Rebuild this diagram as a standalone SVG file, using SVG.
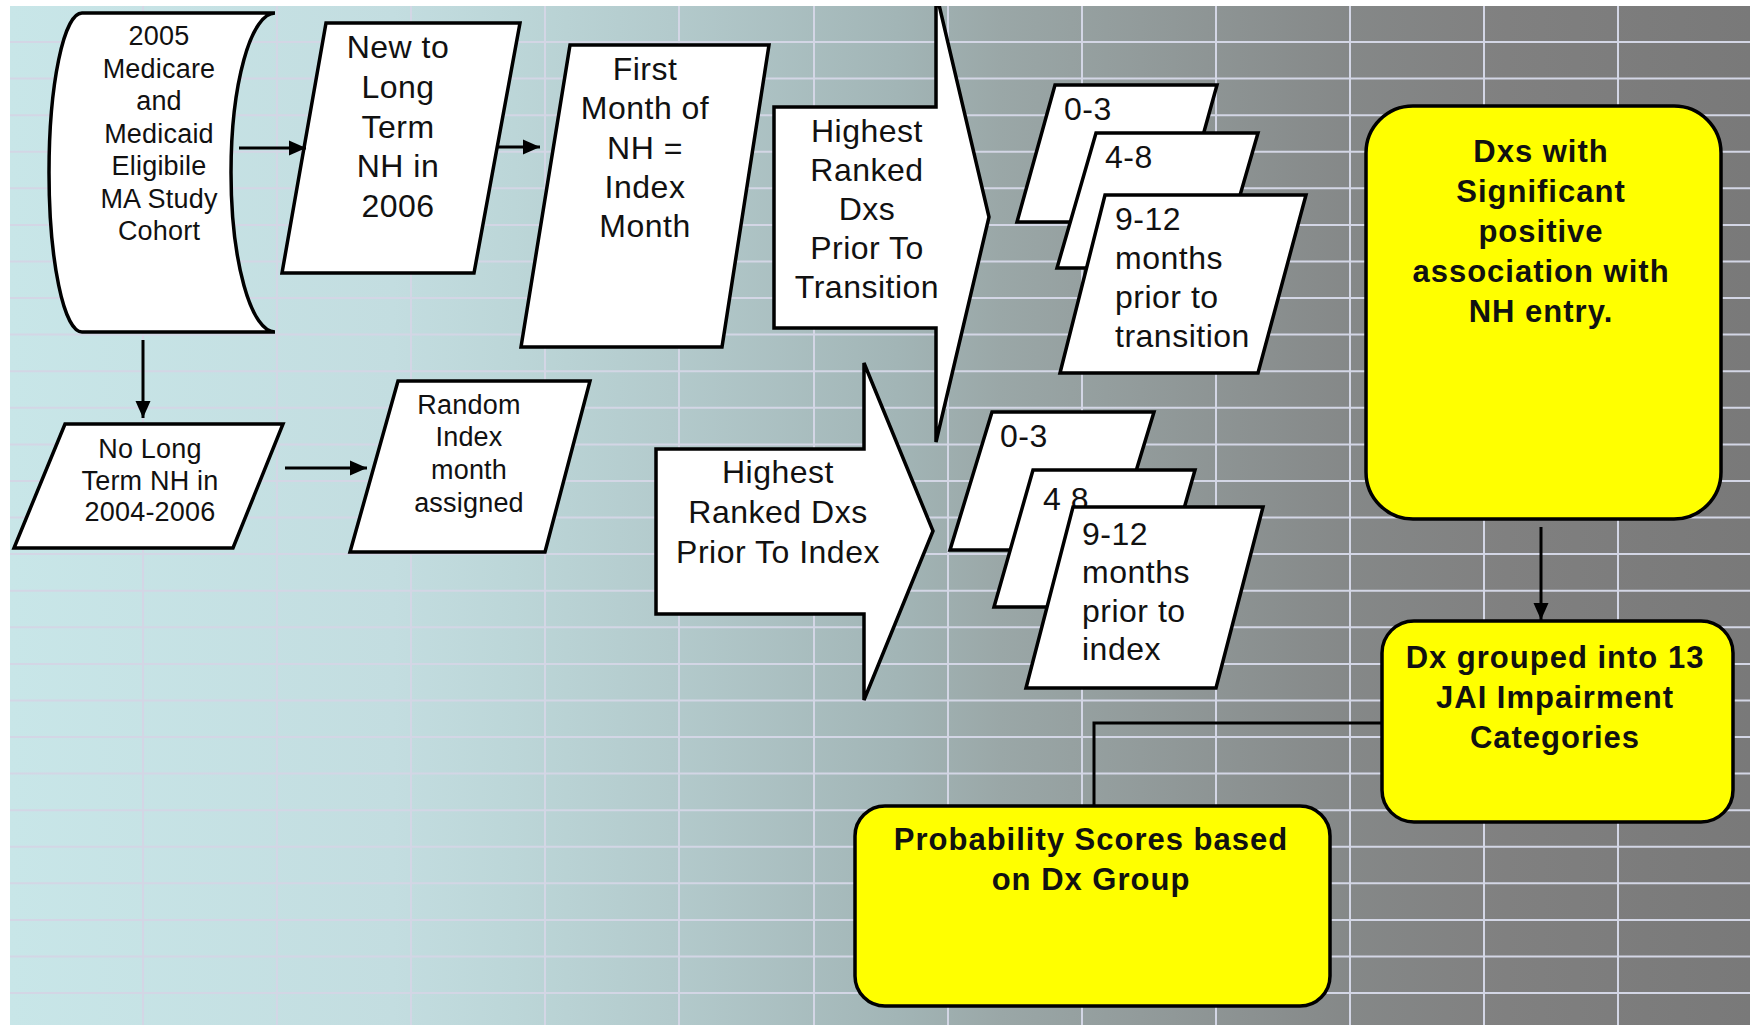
<svg xmlns="http://www.w3.org/2000/svg" width="1750" height="1025" viewBox="0 0 1750 1025">
<defs>
<linearGradient id="bgGrad" x1="0" y1="0" x2="1" y2="0">
<stop offset="0" stop-color="#c8e6e8"/>
<stop offset="0.22" stop-color="#c3dde0"/>
<stop offset="0.29" stop-color="#bcd6d8"/>
<stop offset="0.38" stop-color="#b3cacc"/>
<stop offset="0.51" stop-color="#a2b5b6"/>
<stop offset="0.57" stop-color="#9aa7a7"/>
<stop offset="0.65" stop-color="#929b9b"/>
<stop offset="0.77" stop-color="#858888"/>
<stop offset="0.86" stop-color="#808080"/>
<stop offset="1" stop-color="#797979"/>
</linearGradient>
<clipPath id="area"><rect x="10" y="6" width="1740" height="1019"/></clipPath>
<marker id="ah" markerUnits="userSpaceOnUse" markerWidth="18" markerHeight="16" refX="17" refY="8" orient="auto">
<path d="M0,0.5 L17,8 L0,15.5 Z" fill="#000"/>
</marker>
<style>
.grid line{stroke:#d3d6e5;stroke-width:2}
.shape{fill:#fff;stroke:#000;stroke-width:3.5;stroke-linejoin:miter}
.yel{fill:#ffff00;stroke:#000;stroke-width:3.5}
.t{font-family:"Liberation Sans",Arial,sans-serif;fill:#111;text-anchor:middle}
.l{text-anchor:start}
.t32{font-size:32px;letter-spacing:0.5px}
.t27{font-size:27px;letter-spacing:0.2px}
.b31{font-size:31px;font-weight:bold;letter-spacing:1px}
.conn{stroke:#000;stroke-width:3;fill:none}
</style>
</defs>
<rect x="0" y="0" width="1750" height="1025" fill="#fff"/>
<g clip-path="url(#area)">
<rect x="10" y="6" width="1740" height="1019" fill="url(#bgGrad)"/>
<g class="grid">
<line x1="10" y1="42" x2="1750" y2="42"/>
<line x1="10" y1="78.6" x2="1750" y2="78.6"/>
<line x1="10" y1="115.2" x2="1750" y2="115.2"/>
<line x1="10" y1="151.7" x2="1750" y2="151.7"/>
<line x1="10" y1="188.3" x2="1750" y2="188.3"/>
<line x1="10" y1="224.9" x2="1750" y2="224.9"/>
<line x1="10" y1="261.5" x2="1750" y2="261.5"/>
<line x1="10" y1="298.1" x2="1750" y2="298.1"/>
<line x1="10" y1="334.6" x2="1750" y2="334.6"/>
<line x1="10" y1="371.2" x2="1750" y2="371.2"/>
<line x1="10" y1="407.8" x2="1750" y2="407.8"/>
<line x1="10" y1="444.4" x2="1750" y2="444.4"/>
<line x1="10" y1="481" x2="1750" y2="481"/>
<line x1="10" y1="517.5" x2="1750" y2="517.5"/>
<line x1="10" y1="554.1" x2="1750" y2="554.1"/>
<line x1="10" y1="590.7" x2="1750" y2="590.7"/>
<line x1="10" y1="627.3" x2="1750" y2="627.3"/>
<line x1="10" y1="663.9" x2="1750" y2="663.9"/>
<line x1="10" y1="700.4" x2="1750" y2="700.4"/>
<line x1="10" y1="737" x2="1750" y2="737"/>
<line x1="10" y1="773.6" x2="1750" y2="773.6"/>
<line x1="10" y1="810.2" x2="1750" y2="810.2"/>
<line x1="10" y1="846.8" x2="1750" y2="846.8"/>
<line x1="10" y1="883.3" x2="1750" y2="883.3"/>
<line x1="10" y1="919.9" x2="1750" y2="919.9"/>
<line x1="10" y1="956.5" x2="1750" y2="956.5"/>
<line x1="10" y1="993.1" x2="1750" y2="993.1"/>
<line x1="143" y1="6" x2="143" y2="1025"/>
<line x1="277" y1="6" x2="277" y2="1025"/>
<line x1="411" y1="6" x2="411" y2="1025"/>
<line x1="545" y1="6" x2="545" y2="1025"/>
<line x1="679" y1="6" x2="679" y2="1025"/>
<line x1="814" y1="6" x2="814" y2="1025"/>
<line x1="948" y1="6" x2="948" y2="1025"/>
<line x1="1082" y1="6" x2="1082" y2="1025"/>
<line x1="1216" y1="6" x2="1216" y2="1025"/>
<line x1="1350" y1="6" x2="1350" y2="1025"/>
<line x1="1484" y1="6" x2="1484" y2="1025"/>
<line x1="1618" y1="6" x2="1618" y2="1025"/>
</g>

<g id="n-cohort">
<path class="shape" d="M82,13 L275,13 A44,159.5 0 0,0 275,332 L82,332 A33,159.5 0 0,1 82,13 Z"/>
<text class="t t27" x="159" y="45">2005</text>
<text class="t t27" x="159" y="77.5">Medicare</text>
<text class="t t27" x="159" y="110">and</text>
<text class="t t27" x="159" y="142.5">Medicaid</text>
<text class="t t27" x="159" y="175">Eligibile</text>
<text class="t t27" x="159" y="207.5">MA Study</text>
<text class="t t27" x="159" y="240">Cohort</text>
</g>

<g id="n-newto">
<path class="shape" d="M326,23 L520,23 L474,273 L282,273 Z"/>
<text class="t t32" x="398" y="58">New to</text>
<text class="t t32" x="398" y="98">Long</text>
<text class="t t32" x="398" y="138">Term</text>
<text class="t t32" x="398" y="177">NH in</text>
<text class="t t32" x="398" y="217">2006</text>
</g>

<g id="n-first">
<path class="shape" d="M570,45 L769,45 L722,347 L521,347 Z"/>
<text class="t t32" x="645" y="80">First</text>
<text class="t t32" x="645" y="119">Month of</text>
<text class="t t32" x="645" y="159">NH =</text>
<text class="t t32" x="645" y="198">Index</text>
<text class="t t32" x="645" y="237">Month</text>
</g>

<g id="n-arrow-transition">
<path class="shape" d="M774,107 L936,107 L936,-8 L989,217 L936,442 L936,328 L774,328 Z"/>
<text class="t t32" x="867" y="142">Highest</text>
<text class="t t32" x="867" y="181">Ranked</text>
<text class="t t32" x="867" y="220">Dxs</text>
<text class="t t32" x="867" y="259">Prior To</text>
<text class="t t32" x="867" y="298">Transition</text>
</g>

<g id="n-arrow-index">
<path class="shape" d="M656,449 L864,449 L864,363 L933,531 L864,700 L864,614 L656,614 Z"/>
<text class="t t32" x="778" y="483">Highest</text>
<text class="t t32" x="778" y="523">Ranked Dxs</text>
<text class="t t32" x="778" y="563">Prior To Index</text>
</g>

<g id="n-trans-0-3">
<path class="shape" d="M1055,85 L1217,85 L1179,222 L1017,222 Z"/>
<text class="t l t32" x="1064" y="120">0-3</text>
</g>
<g id="n-trans-4-8">
<path class="shape" d="M1096,133 L1258,133 L1219,268 L1057,268 Z"/>
<text class="t l t32" x="1105" y="168">4-8</text>
</g>
<g id="n-trans-9-12">
<path class="shape" d="M1105,195 L1306,195 L1258,373 L1060,373 Z"/>
<text class="t l t32" x="1115" y="230">9-12</text>
<text class="t l t32" x="1115" y="269">months</text>
<text class="t l t32" x="1115" y="308">prior to</text>
<text class="t l t32" x="1115" y="347">transition</text>
</g>

<g id="n-index-0-3">
<path class="shape" d="M992,412 L1154,412 L1112,550 L950,550 Z"/>
<text class="t l t32" x="1000" y="447">0-3</text>
</g>
<g id="n-index-4-8">
<path class="shape" d="M1033,470 L1195,470 L1156,607 L994,607 Z"/>
<text class="t l t32" x="1043" y="510">4 8</text>
</g>
<g id="n-index-9-12">
<path class="shape" d="M1073,507 L1263,507 L1216,688 L1026,688 Z"/>
<text class="t l t32" x="1082" y="545">9-12</text>
<text class="t l t32" x="1082" y="583">months</text>
<text class="t l t32" x="1082" y="622">prior to</text>
<text class="t l t32" x="1082" y="660">index</text>
</g>

<g id="n-nolong">
<path class="shape" d="M65,424 L283,424 L233,548 L14,548 Z"/>
<text class="t t27" x="150" y="458">No Long</text>
<text class="t t27" x="150" y="490">Term NH in</text>
<text class="t t27" x="150" y="521">2004-2006</text>
</g>

<g id="n-random">
<path class="shape" d="M398,381 L590,381 L545,552 L350,552 Z"/>
<text class="t t27" x="469" y="414">Random</text>
<text class="t t27" x="469" y="446">Index</text>
<text class="t t27" x="469" y="479">month</text>
<text class="t t27" x="469" y="512">assigned</text>
</g>

<g id="n-dxs">
<rect class="yel" x="1366" y="106" width="355" height="413" rx="47" ry="47"/>
<text class="t b31" x="1541" y="162">Dxs with</text>
<text class="t b31" x="1541" y="202">Significant</text>
<text class="t b31" x="1541" y="242">positive</text>
<text class="t b31" x="1541" y="282">association with</text>
<text class="t b31" x="1541" y="322">NH entry.</text>
</g>

<g id="n-dxgroup">
<rect class="yel" x="1382" y="621" width="351" height="201" rx="32" ry="32"/>
<text class="t b31" x="1555" y="668">Dx grouped into 13</text>
<text class="t b31" x="1555" y="708">JAI Impairment</text>
<text class="t b31" x="1555" y="748">Categories</text>
</g>

<g id="n-prob">
<rect class="yel" x="855" y="806" width="475" height="200" rx="30" ry="30"/>
<text class="t b31" x="1091" y="850">Probability Scores based</text>
<text class="t b31" x="1091" y="890">on Dx Group</text>
</g>

<g id="connectors">
<line class="conn" x1="239" y1="148" x2="306" y2="148" marker-end="url(#ah)"/>
<line class="conn" x1="497" y1="147" x2="540" y2="147" marker-end="url(#ah)"/>
<line class="conn" x1="143" y1="340" x2="143" y2="418" marker-end="url(#ah)"/>
<line class="conn" x1="285" y1="468" x2="367" y2="468" marker-end="url(#ah)"/>
<line class="conn" x1="1541" y1="527" x2="1541" y2="620" stroke-width="2.5" marker-end="url(#ah)"/>
<polyline class="conn" points="1382,723 1094,723 1094,806"/>
</g>
</g>
</svg>
